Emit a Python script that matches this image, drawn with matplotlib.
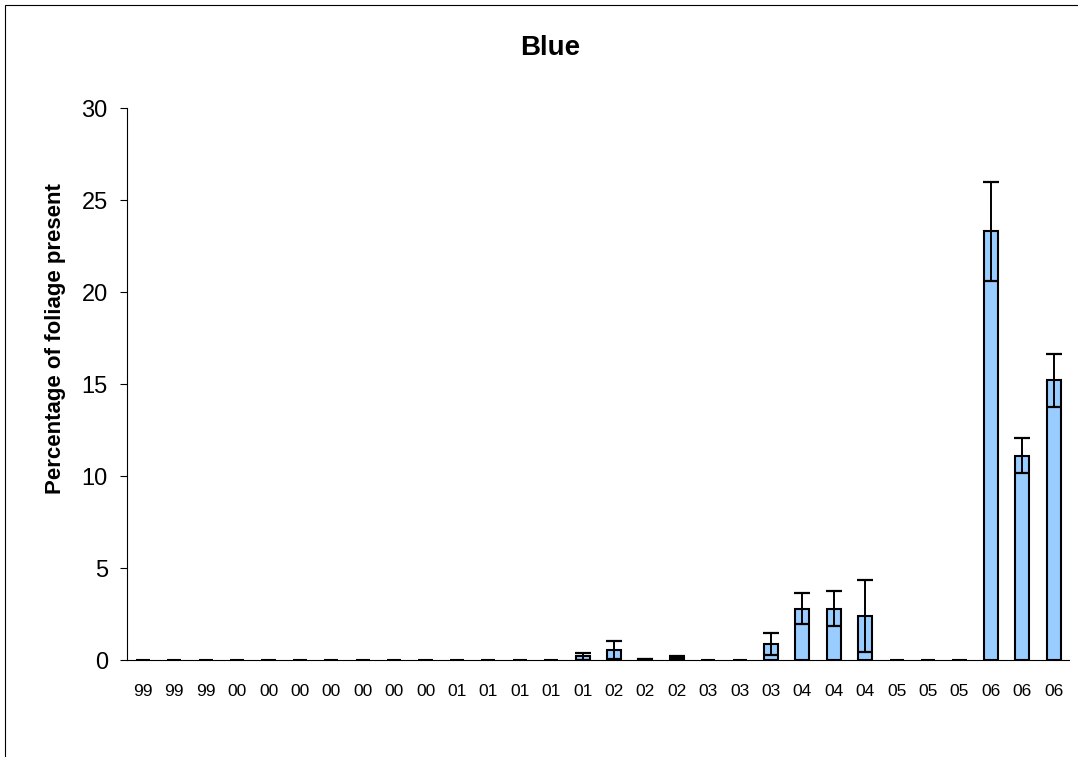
import numpy as np
import matplotlib.pyplot as plt
from matplotlib.patches import Rectangle

plt.rcParams['font.family'] = ['Liberation Sans', 'DejaVu Sans']

# sampling years (two-digit), one per survey
years = ["99", "99", "99", "00", "00", "00", "00", "00", "00", "00",
         "01", "01", "01", "01", "01", "02", "02", "02", "03", "03",
         "03", "04", "04", "04", "05", "05", "05", "06", "06", "06"]

# mean percentage of foliage present
foliage = [0, 0, 0, 0, 0, 0, 0, 0, 0, 0,
           0, 0, 0, 0, 0.2, 0.55, 0.05, 0.1, 0, 0,
           0.9, 2.8, 2.8, 2.4, 0, 0, 0, 23.3, 11.1, 15.2]

# standard error of the mean
std_err = [0, 0, 0, 0, 0, 0, 0, 0, 0, 0,
           0, 0, 0, 0, 0.2, 0.5, 0.03, 0.1, 0, 0,
           0.6, 0.85, 0.95, 1.95, 0, 0, 0, 2.7, 0.95, 1.45]

fig = plt.figure(figsize=(10.78, 7.57), dpi=100)
ax = fig.add_axes([0.118, 0.128, 0.874, 0.729])

x = np.arange(len(years))
vals = np.array(foliage)
errs = np.array(std_err)

ax.bar(x, vals, width=0.45, color="#99CCFF", edgecolor="black",
       linewidth=1.5, zorder=2)

has_err = errs > 0
ax.errorbar(x[has_err], vals[has_err], yerr=errs[has_err], fmt="none",
            ecolor="black", elinewidth=1.4, capsize=6, capthick=1.6, zorder=3)

ax.set_xlim(-0.5, len(years) - 0.5)
ax.set_ylim(0, 30)
ax.set_yticks(range(0, 31, 5))
ax.set_xticks(x)
ax.set_xticklabels(years, fontsize=12.5)
ax.tick_params(axis="x", length=0, pad=17)
ax.tick_params(axis="y", labelsize=17, length=5, width=0.8, direction="out", pad=9)

for side in ("top", "right"):
    ax.spines[side].set_visible(False)
ax.spines["left"].set_linewidth(0.8)
ax.spines["bottom"].set_linewidth(0.8)

ax.set_ylabel("Percentage of foliage present", fontsize=16, fontweight="bold")
ax.yaxis.set_label_coords(-0.065, 0.583)
fig.text(0.51, 0.937, "Blue", ha="center", va="center", fontsize=20,
         fontweight="bold")

# chart area border
fig.patches.append(Rectangle((0.005, -0.01), 1.2, 1.003, transform=fig.transFigure,
                             fill=False, edgecolor="black", linewidth=0.8))

fig.savefig("out.png", dpi=100)
